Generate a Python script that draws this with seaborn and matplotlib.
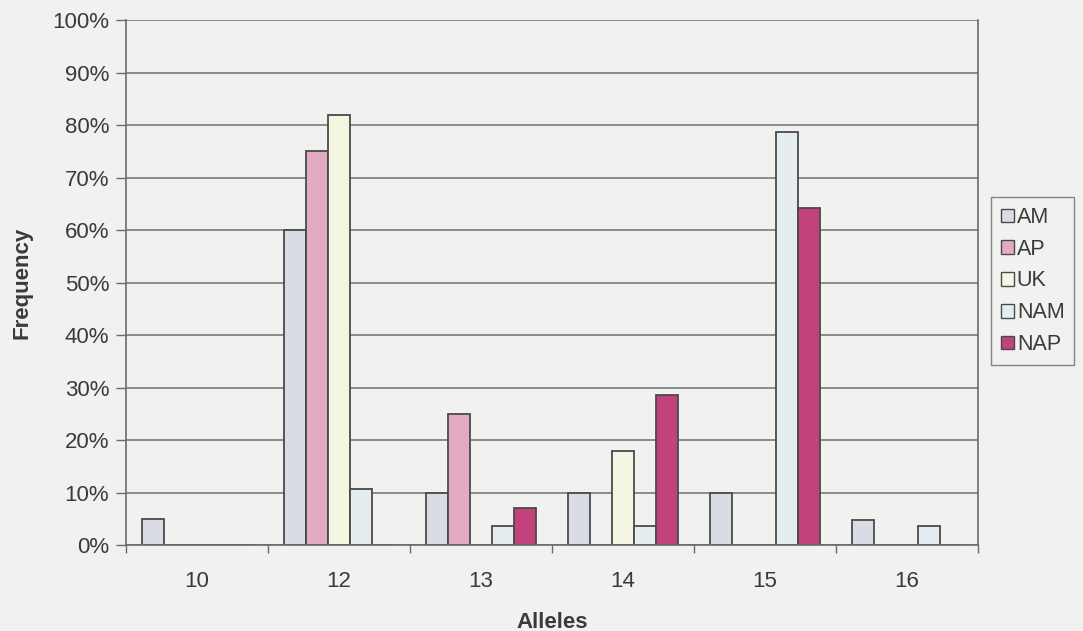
import matplotlib
matplotlib.use("Agg")
import matplotlib.pyplot as plt
import seaborn as sns
import pandas as pd
from matplotlib.ticker import FixedLocator, PercentFormatter

# Allele frequencies per population
alleles = ["10", "12", "13", "14", "15", "16"]
populations = ["AM", "AP", "UK", "NAM", "NAP"]
am = [0.05, 0.60, 0.10, 0.10, 0.10, 0.048]
ap = [0.00, 0.75, 0.25, 0.00, 0.00, 0.00]
uk = [0.00, 0.82, 0.00, 0.18, 0.00, 0.00]
nam = [0.00, 0.107, 0.036, 0.036, 0.786, 0.036]
nap = [0.00, 0.00, 0.071, 0.286, 0.643, 0.00]

colors = ["#d9dbe5", "#e2aac3", "#f4f6e1", "#e5edf1", "#c2427c"]

rows = []
for pop, vals in zip(populations, [am, ap, uk, nam, nap]):
    for a, v in zip(alleles, vals):
        rows.append({"Alleles": a, "Population": pop, "Frequency": v})
df = pd.DataFrame(rows)

sns.set_theme(style="white")
plt.rcParams["font.family"] = ["Liberation Sans", "DejaVu Sans"]

fig = plt.figure(figsize=(10.83, 6.31), dpi=100)
fig.patch.set_facecolor("#f1f1ef")
ax = fig.add_axes([0.1163, 0.1363, 0.7867, 0.8317])
ax.set_facecolor("#f1f1ef")

sns.barplot(data=df, x="Alleles", y="Frequency", hue="Population",
            hue_order=populations, order=alleles, palette=colors,
            width=0.775, edgecolor="#4a4a4a", linewidth=1.3,
            saturation=1, legend=True, ax=ax)

ax.set_ylim(0, 1.0)
ax.set_xlim(-0.5, len(alleles) - 0.5)
ax.yaxis.set_major_locator(FixedLocator([i / 10 for i in range(11)]))
ax.yaxis.set_major_formatter(PercentFormatter(1.0, decimals=0))
ax.grid(axis="y", color="#7a7a7a", linewidth=1.2)
ax.set_axisbelow(True)

ax.spines["top"].set_visible(False)
for side in ["left", "bottom", "right"]:
    ax.spines[side].set_color("#6a6a6a")
    ax.spines[side].set_linewidth(1.2)

ax.tick_params(axis="y", which="major", length=7, width=1, color="#6a6a6a",
               labelsize=16, labelcolor="#3a3a3a", pad=5, left=True)
ax.tick_params(axis="x", which="major", length=0, labelsize=16,
               labelcolor="#3a3a3a", pad=19)
ax.xaxis.set_minor_locator(FixedLocator([i - 0.5 for i in range(len(alleles) + 1)]))
ax.tick_params(axis="x", which="minor", length=6, width=1, color="#6a6a6a",
               bottom=True)

ax.set_xlabel("Alleles", fontsize=16, fontweight="bold", color="#3a3a3a", labelpad=14)
ax.set_ylabel("Frequency", fontsize=16, fontweight="bold", color="#3a3a3a", labelpad=14)

ax.get_legend().remove()
handles = [plt.Rectangle((0, 0), 1, 1, facecolor=c, edgecolor="#4a4a4a", linewidth=1.0)
           for c in colors]
leg = fig.legend(handles, populations, loc="center left",
                 bbox_to_anchor=(991 / 1083, 1 - 281 / 631),
                 frameon=True, fancybox=False, fontsize=15.5,
                 handlelength=0.6, handleheight=0.6, handletextpad=0.15,
                 labelspacing=0.5, borderpad=0.45, borderaxespad=0)
leg.get_frame().set_edgecolor("#6a6a6a")
leg.get_frame().set_facecolor("#f1f1ef")
leg.get_frame().set_linewidth(1.0)
for t in leg.get_texts():
    t.set_color("#3a3a3a")

fig.savefig("out.png", dpi=100, facecolor=fig.get_facecolor())
